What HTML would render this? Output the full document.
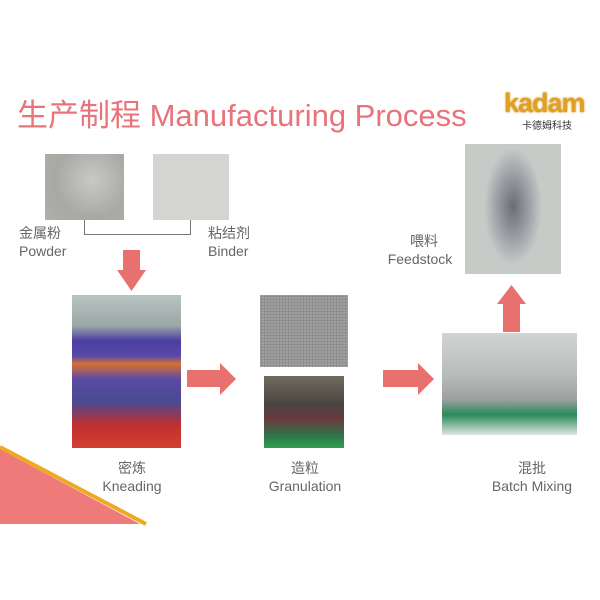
<!DOCTYPE html>
<html><head><meta charset="utf-8"><style>
body{margin:0;width:600px;height:600px;background:#fff;position:relative;overflow:hidden;font-family:"Liberation Sans","Noto Sans CJK SC",sans-serif;}
.a{position:absolute;}
.t{color:#666;font-size:14px;line-height:18px;}
.c{text-align:center;}
</style></head><body>
<div class="a" style="left:17px;top:90px;font-size:31px;color:#e8737a;white-space:nowrap;">生产制程 Manufacturing Process</div>
<div class="a" style="left:504px;top:88px;width:88px;font-size:27px;font-weight:bold;color:#e0a020;letter-spacing:-1px;font-family:'Liberation Sans',sans-serif;text-shadow:0 0 2px #c88010;">kadam</div>
<div class="a" style="left:522px;top:117px;font-size:10px;color:#333;">卡德姆科技</div>

<div class="a" style="left:45px;top:154px;width:79px;height:66px;background:radial-gradient(circle at 60% 40%,#c8c8c4,#a8a8a4 60%,#b0b0aa);"></div>
<div class="a" style="left:153px;top:154px;width:76px;height:66px;background:#d4d4d0;"></div>
<div class="a" style="left:84px;top:220px;width:107px;height:15px;border:1px solid #777;border-top:none;box-sizing:border-box;"></div>
<div class="a t" style="left:19px;top:224px;">金属粉<br>Powder</div>
<div class="a t" style="left:208px;top:224px;">粘结剂<br>Binder</div>

<svg class="a" style="left:0;top:0" width="600" height="600">
<polygon points="123,250 140,250 140,270 146,270 131.5,291 117,270 123,270" fill="#e8706e"/>
<polygon points="187,370 220,370 220,363 236,379 220,395 220,387 187,387" fill="#e8706e"/>
<polygon points="383,370 418,370 418,363 434,379 418,395 418,387 383,387" fill="#e8706e"/>
<polygon points="503,332 520,332 520,304 526,304 511.5,285 497,304 503,304" fill="#e8706e"/>
<polygon points="0,449 0,524 140,524" fill="#ee7a7a"/>
<line x1="0" y1="447" x2="146" y2="524" stroke="#f0a820" stroke-width="4"/>
</svg>

<div class="a" style="left:72px;top:295px;width:109px;height:153px;background:linear-gradient(180deg,#b8c4c0 0%,#9aa8a6 20%,#4a3ea0 30%,#5a4aa8 40%,#d87030 45%,#5a4aa8 55%,#4a4a90 70%,#c03030 85%,#d04030 100%);"></div>
<div class="a" style="left:260px;top:295px;width:88px;height:72px;background:radial-gradient(#888 1px,#a8a8a8 1.5px);background-size:3px 3px;background-color:#9a9a9a;"></div>
<div class="a" style="left:264px;top:376px;width:80px;height:72px;background:linear-gradient(180deg,#706a60 0%,#4a4440 40%,#6a3a40 60%,#2a7a4a 85%,#30a050 100%);"></div>
<div class="a" style="left:442px;top:333px;width:135px;height:102px;background:linear-gradient(180deg,#d0d4d2 0%,#b8bcba 40%,#9ca0a0 65%,#2a8a5a 80%,#e0e4e2 100%);"></div>
<div class="a" style="left:465px;top:144px;width:96px;height:130px;background:radial-gradient(ellipse 30% 45% at 50% 48%,#6a6e74,#a0a4a8 60%,#c8cac8 100%);"></div>

<div class="a t" style="left:389px;top:232px;width:70px;text-align:center;">喂料<br><span style="position:relative;left:-4px">Feedstock</span></div>
<div class="a t c" style="left:82px;top:459px;width:100px;">密炼<br>Kneading</div>
<div class="a t c" style="left:255px;top:459px;width:100px;">造粒<br>Granulation</div>
<div class="a t c" style="left:472px;top:459px;width:120px;">混批<br>Batch Mixing</div>
</body></html>
